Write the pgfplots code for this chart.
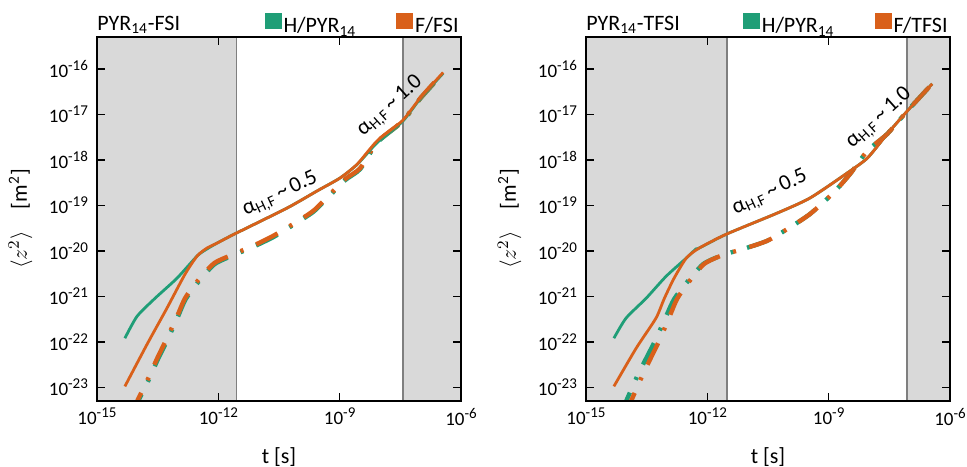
\documentclass[border=0pt]{standalone}
\usepackage{fontspec}
\setmainfont{Carlito}
\usepackage{pgfplots}
\pgfplotsset{compat=1.18}

\definecolor{cH}{HTML}{1F9E77}
\definecolor{cF}{HTML}{D9601A}
\definecolor{shadegray}{HTML}{D9D9D9}
\definecolor{vlinegray}{HTML}{7F7F7F}

\newcommand\ee[1]{10\raisebox{3.5pt}{\fontsize{7.5}{8}\selectfont#1}}

\tikzset{
  sline/.style={line width=1.4pt, smooth, tension=0.4},
  dline/.style={line width=2.2pt, smooth, tension=0.4, dash pattern=on 12pt off 7pt on 1.5pt off 7pt},
  alab/.style={font=\fontsize{11}{13}\selectfont, inner sep=0pt},
  ttl/.style={font=\fontsize{11}{13}\selectfont, inner sep=0pt, anchor=base west},
}

\pgfplotsset{
  legend image code/.code={\fill[#1] (0pt,-1pt) rectangle (8.5pt,7pt);},
  every axis/.append style={
    scale only axis, width=182pt, height=182pt,
    xmin=1e-15, xmax=1e-6, ymin=5e-24, ymax=5e-16,
    clip mode=individual,
    xtick={1e-15,1e-12,1e-9,1e-6},
    xticklabels={\ee{-15},\ee{-12},\ee{-9},\ee{-6}},
    ytick={1e-23,1e-22,1e-21,1e-20,1e-19,1e-18,1e-17,1e-16},
    yticklabels={\ee{-23},\ee{-22},\ee{-21},\ee{-20},\ee{-19},\ee{-18},\ee{-17},\ee{-16}},
    tick align=inside, major tick length=4pt,
    tick style={black, line width=0.8pt},
    axis line style={line width=1pt},
    axis on top,
    ticklabel style={font=\fontsize{9.5}{10}\selectfont},
    yticklabel style={xshift=-1pt},
    xlabel={t [s]},
    ylabel={$\langle z^2\rangle$\quad[m\textsuperscript{2}]},
    label style={font=\fontsize{11}{13}\selectfont},
    xlabel style={at={(axis description cs:0.5,-0.154)}, anchor=center},
    ylabel style={at={(axis description cs:-0.21,0.5)}, anchor=center},
    legend style={at={(axis description cs:1,1)}, anchor=south east, yshift=-0.6pt,
                  draw=none, fill=none,
                  inner sep=0pt, nodes={inner sep=1pt}, font=\fontsize{11}{13}\selectfont,
                  /tikz/every even column/.append style={column sep=19pt}},
    legend columns=-1,
  },
}

\begin{document}
\begin{tikzpicture}
\useasboundingbox (-48.5pt,-32.5pt) rectangle (435pt,200.5pt);

% ---------------- PYR14-FSI ----------------
\begin{loglogaxis}[xminorticks=false, yminorticks=false]
\addlegendimage{fill=cH, draw=none}
\addlegendentry{H/PYR\textsubscript{14}}
\addlegendimage{fill=cF, draw=none}
\addlegendentry{F/FSI}

\addplot[fill=shadegray, draw=none, forget plot] coordinates {(1e-15,5e-24) (2.8e-12,5e-24) (2.8e-12,5e-16) (1e-15,5e-16)};
\addplot[fill=shadegray, draw=none, forget plot] coordinates {(3.7e-8,5e-24) (1e-6,5e-24) (1e-6,5e-16) (3.7e-8,5e-16)};
\addplot[vlinegray, line width=0.9pt, forget plot] coordinates {(2.8e-12,5e-24) (2.8e-12,5e-16)};
\addplot[vlinegray, line width=0.9pt, forget plot] coordinates {(3.7e-8,5e-24) (3.7e-8,5e-16)};

% dash-dot
\addplot[cH, dline, forget plot] coordinates {
(7.4e-15,2.3e-24) (1.0e-14,4.6e-24) (2.0e-14,1.6e-23) (3.15e-14,4.0e-23) (5.5e-14,1.1e-22)
(9.8e-14,3.4e-22) (1.55e-13,8.6e-22) (3.1e-13,2.0e-21) (8.1e-13,5.1e-21) (2.45e-12,8.1e-21)
(7.24e-12,1.22e-20) (2.29e-11,2.0e-20) (7.08e-11,3.7e-20) (2.24e-10,7.2e-20) (5.89e-10,1.68e-19)
(1.38e-9,3.6e-19) (3.24e-9,6.3e-19) (8.51e-9,2.4e-18) (3.55e-8,6.9e-18) (1.0e-7,2.25e-17) (3.63e-7,8.0e-17)};
\addplot[cF, dline, forget plot] coordinates {
(7.08e-15,2.51e-24) (9.77e-15,4.90e-24) (1.95e-14,1.74e-23) (3.09e-14,4.37e-23) (5.37e-14,1.20e-22)
(9.55e-14,3.63e-22) (1.51e-13,9.12e-22) (3.02e-13,2.14e-21) (7.94e-13,5.37e-21) (2.45e-12,8.51e-21)
(7.24e-12,1.29e-20) (2.29e-11,2.14e-20) (7.08e-11,3.89e-20) (2.24e-10,7.59e-20) (5.89e-10,1.78e-19)
(1.38e-9,3.80e-19) (3.24e-9,6.61e-19) (8.51e-9,2.5e-18) (3.55e-8,7.0e-18) (1.0e-7,2.3e-17) (3.63e-7,8.2e-17)};

% solid
\addplot[cH, sline, forget plot] coordinates {
(4.90e-15,1.20e-22) (9.77e-15,3.63e-22) (2.75e-14,9.12e-22) (9.55e-14,2.51e-21) (3.02e-13,7.76e-21)
(5.25e-13,1.10e-20) (9.33e-13,1.48e-20) (2.51e-12,2.34e-20) (5.01e-11,8.71e-20) (2.82e-10,2.09e-19)
(1.02e-9,3.98e-19) (2.75e-9,8.0e-19) (8.51e-9,2.4e-18) (3.55e-8,6.9e-18) (1.0e-7,2.25e-17) (3.63e-7,8.0e-17)};
\addplot[cF, sline, forget plot] coordinates {
(4.90e-15,1.05e-23) (1.74e-14,8.91e-23) (5.37e-14,5.50e-22) (1.51e-13,3.09e-21) (3.02e-13,7.76e-21)
(5.25e-13,1.15e-20) (9.33e-13,1.48e-20) (2.51e-12,2.34e-20) (5.01e-11,8.71e-20) (2.82e-10,2.09e-19)
(1.02e-9,3.98e-19) (2.75e-9,8.13e-19) (8.51e-9,2.63e-18) (3.55e-8,7.24e-18) (1.0e-7,2.34e-17) (3.63e-7,8.32e-17)};

\node[ttl] at (rel axis cs:0,1.019) {PYR\textsubscript{14}-FSI};
\node[alab, rotate=25] at (axis cs:3.4e-11,1.74e-19) {α\textsubscript{H,F}\,\textasciitilde\,0.5};
\node[alab, rotate=42] at (axis cs:1.78e-8,1.48e-17) {α\textsubscript{H,F}\,\textasciitilde\,1.0};
\end{loglogaxis}

% ---------------- PYR14-TFSI ----------------
\begin{loglogaxis}[at={(244.5pt,0pt)}, xminorticks=false, yminorticks=false]
\addlegendimage{fill=cH, draw=none}
\addlegendentry{H/PYR\textsubscript{14}}
\addlegendimage{fill=cF, draw=none}
\addlegendentry{F/TFSI}

\addplot[fill=shadegray, draw=none, forget plot] coordinates {(1e-15,5e-24) (3.1e-12,5e-24) (3.1e-12,5e-16) (1e-15,5e-16)};
\addplot[fill=shadegray, draw=none, forget plot] coordinates {(8.8e-8,5e-24) (1e-6,5e-24) (1e-6,5e-16) (8.8e-8,5e-16)};
\addplot[vlinegray, line width=0.9pt, forget plot] coordinates {(3.1e-12,5e-24) (3.1e-12,5e-16)};
\addplot[vlinegray, line width=0.9pt, forget plot] coordinates {(8.8e-8,5e-24) (8.8e-8,5e-16)};

% dash-dot
\addplot[cH, dline, forget plot] coordinates {
(7.08e-15,2.51e-24) (9.77e-15,4.90e-24) (1.95e-14,1.95e-23) (3.09e-14,4.37e-23) (5.37e-14,1.15e-22)
(9.55e-14,3.63e-22) (1.51e-13,8.71e-22) (3.02e-13,1.95e-21) (7.94e-13,5.13e-21) (2.45e-12,8.13e-21)
(7.76e-12,1.10e-20) (3.02e-11,1.66e-20) (9.55e-11,3.02e-20) (3.47e-10,6.46e-20) (1.29e-9,1.86e-19)
(3.39e-9,4.90e-19) (9.12e-9,1.58e-18) (2.82e-8,3.72e-18) (8.91e-8,1.20e-17) (3.63e-7,4.68e-17)};
\addplot[cF, dline, forget plot] coordinates {
(8.91e-15,2.51e-24) (1.29e-14,4.90e-24) (2.57e-14,1.95e-23) (3.98e-14,4.37e-23) (6.76e-14,1.15e-22)
(1.17e-13,3.63e-22) (1.78e-13,8.71e-22) (3.31e-13,1.95e-21) (8.32e-13,5.13e-21) (2.45e-12,8.13e-21)
(7.76e-12,1.10e-20) (3.02e-11,1.66e-20) (9.55e-11,3.02e-20) (3.47e-10,6.46e-20) (1.29e-9,1.86e-19)
(3.39e-9,4.90e-19) (9.12e-9,1.58e-18) (2.82e-8,3.72e-18) (8.91e-8,1.20e-17) (3.63e-7,4.68e-17)};

% solid
\addplot[cH, sline, forget plot] coordinates {
(4.90e-15,1.20e-22) (9.77e-15,3.31e-22) (3.09e-14,9.12e-22) (9.55e-14,2.75e-21) (3.02e-13,6.92e-21)
(5.25e-13,1.10e-20) (6.31e-13,1.15e-20) (3.02e-12,2.34e-20) (5.37e-11,6.76e-20) (3.47e-10,1.45e-19)
(2.88e-9,5.13e-19) (9.12e-9,1.10e-18) (2.82e-8,3.72e-18) (8.91e-8,1.20e-17) (3.63e-7,4.68e-17)};
\addplot[cF, sline, forget plot] coordinates {
(4.90e-15,1.05e-23) (1.74e-14,7.24e-23) (5.37e-14,3.31e-22) (8.51e-14,8.71e-22) (1.51e-13,2.51e-21)
(3.02e-13,6.92e-21) (6.31e-13,1.15e-20) (3.02e-12,2.34e-20) (5.37e-11,6.76e-20) (3.47e-10,1.45e-19)
(2.88e-9,5.13e-19) (9.12e-9,1.10e-18) (2.82e-8,3.72e-18) (8.91e-8,1.20e-17) (3.63e-7,4.68e-17)};

\node[ttl] at (rel axis cs:0,1.019) {PYR\textsubscript{14}-TFSI};
\node[alab, rotate=25] at (axis cs:3.55e-11,1.86e-19) {α\textsubscript{H,F}\,\textasciitilde\,0.5};
\node[alab, rotate=42] at (axis cs:1.78e-8,8.1e-18) {α\textsubscript{H,F}\,\textasciitilde\,1.0};
\end{loglogaxis}
\end{tikzpicture}
\end{document}
